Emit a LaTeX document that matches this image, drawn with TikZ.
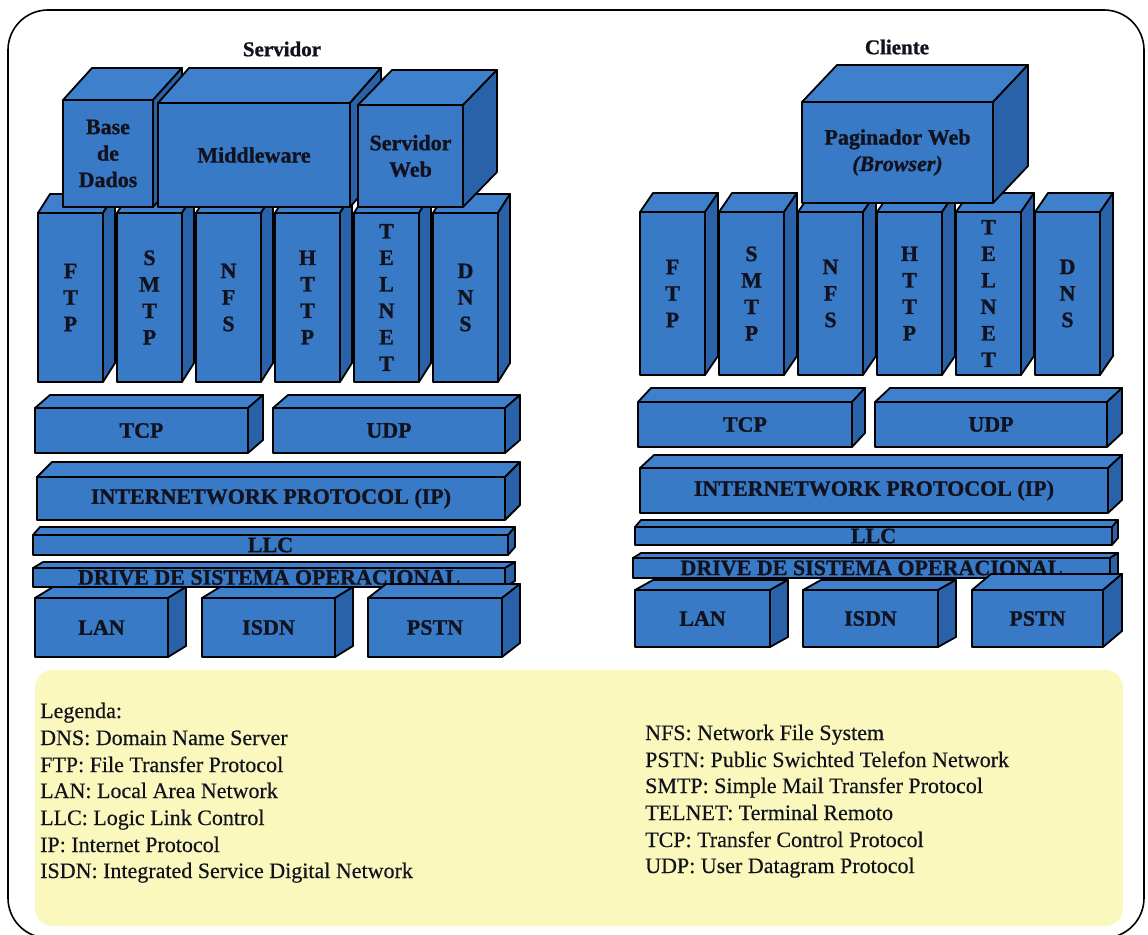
\documentclass[tikz,border=0pt]{standalone}
\usepackage{fontspec}
\setmainfont{Liberation Serif}
\newfontfamily\labelfont[FakeBold=1]{Liberation Serif}
\newfontfamily\legendfont[FakeBold=0.4]{Liberation Serif}

\definecolor{boxblue}{RGB}{56,122,198}
\definecolor{boxtop}{RGB}{62,128,204}
\definecolor{boxside}{RGB}{42,98,170}
\definecolor{legendbg}{RGB}{250,248,188}
\definecolor{ink}{RGB}{18,18,30}

\tikzset{
  frontface/.style={rectangle, draw=black, fill=boxblue, line width=1.8pt,
    inner sep=0pt, outer sep=0pt, line join=round},
  topface/.style={draw=black, fill=boxtop, line width=1.8pt, line join=round},
  sideface/.style={draw=black, fill=boxside, line width=1.8pt, line join=round},
  boxlabel/.style={font=\labelfont\fontsize{22}{26.5}\selectfont\bfseries, text=ink,
    align=center, inner sep=0pt},
  titlelabel/.style={font=\labelfont\fontsize{21}{24}\selectfont\bfseries, text=ink, inner sep=0pt},
  legendline/.style={font=\legendfont\fontsize{22}{26}\selectfont, text=ink, inner sep=0pt, anchor=base west},
}

% 3D block: name, left, top, right, bottom (front face), depth dx, depth dy, label
\newcommand\layerbox[8]{%
  \filldraw[topface] (#2,#3) -- ({#2+#6},{#3+#7}) -- ({#4+#6},{#3+#7}) -- (#4,#3) -- cycle;
  \filldraw[sideface] (#4,#3) -- ({#4+#6},{#3+#7}) -- ({#4+#6},{#5+#7}) -- (#4,#5) -- cycle;
  \node[frontface, minimum width={(#4-#2)*1pt}, minimum height={(#5-#3)*1pt}]
    (#1) at ({(#2+#4)/2},{(#3+#5)/2}) {};
  \node[boxlabel] (#1-text) at (#1.center) {#8};
}

\begin{document}
\begin{tikzpicture}[x=1pt, y=-1pt]
\useasboundingbox (0,0) rectangle (1148,934);
\fill[white] (0,0) rectangle (1148,934);

% frame and legend panel
\draw[line width=1.6pt, rounded corners=40pt] (8,10) rectangle (1144,938);
\fill[legendbg, rounded corners=18pt] (35,670) rectangle (1123,926);

% ---------------- server stack ----------------
\node[titlelabel] (srv-title) at (282,49) {Servidor};

\foreach \xa/\nm/\lab in {38/s-ftp/{F\\T\\P}, 117/s-smtp/{S\\M\\T\\P}, 196/s-nfs/{N\\F\\S},
    275/s-http/{H\\T\\T\\P}, 354/s-telnet/{T\\E\\L\\N\\E\\T}, 433/s-dns/{D\\N\\S}}
  {\layerbox{\nm}{\xa}{213}{\xa+65}{382}{12}{-19}{\lab}}

\layerbox{s-db}{63}{100}{153}{207}{29}{-32}{Base\\de\\Dados}
\layerbox{s-mid}{158}{103}{350}{207}{31}{-35}{Middleware}
\layerbox{s-web}{358}{105}{463}{207}{34}{-35}{Servidor\\Web}

\layerbox{s-tcp}{35}{408}{248}{453}{15}{-13}{TCP}
\layerbox{s-udp}{273}{408}{505}{453}{15}{-13}{UDP}
\layerbox{s-ip}{37}{477}{505}{520}{15}{-15}{INTERNETWORK PROTOCOL (IP)}
\layerbox{s-llc}{33}{535}{508}{555}{7}{-8}{LLC}
\layerbox{s-drv}{33}{568}{505}{587}{10}{-6}{DRIVE DE SISTEMA OPERACIONAL}
\layerbox{s-lan}{35}{598}{168}{657}{18}{-11}{LAN}
\layerbox{s-isdn}{202}{598}{335}{657}{18}{-11}{ISDN}
\layerbox{s-pstn}{368}{598}{502}{657}{18}{-14}{PSTN}

% ---------------- client stack ----------------
\node[titlelabel] (cli-title) at (897,47) {Cliente};

\foreach \xa/\nm/\lab in {640/c-ftp/{F\\T\\P}, 719/c-smtp/{S\\M\\T\\P}, 798/c-nfs/{N\\F\\S},
    877/c-http/{H\\T\\T\\P}, 956/c-telnet/{T\\E\\L\\N\\E\\T}, 1035/c-dns/{D\\N\\S}}
  {\layerbox{\nm}{\xa}{212}{\xa+65}{375}{13}{-19}{\lab}}

\layerbox{c-web}{802}{102}{993}{203}{35}{-37}{Paginador Web\\\textit{(Browser)}}

\layerbox{c-tcp}{638}{402}{852}{447}{13}{-14}{TCP}
\layerbox{c-udp}{875}{402}{1107}{447}{15}{-14}{UDP}
\layerbox{c-ip}{640}{468}{1108}{513}{14}{-13}{INTERNETWORK PROTOCOL (IP)}
\layerbox{c-llc}{635}{527}{1112}{545}{6}{-7}{LLC}
\layerbox{c-drv}{633}{558}{1110}{578}{8}{-5}{DRIVE DE SISTEMA OPERACIONAL}
\layerbox{c-lan}{635}{590}{770}{647}{18}{-10}{LAN}
\layerbox{c-isdn}{803}{590}{938}{647}{18}{-10}{ISDN}
\layerbox{c-pstn}{972}{590}{1103}{647}{19}{-16}{PSTN}

% ---------------- legend ----------------
\foreach \yy/\txt [count=\i] in {718/Legenda:, 745/DNS: Domain Name Server,
    772/FTP: File Transfer Protocol, 798/LAN: Local Area Network,
    825/LLC: Logic Link Control, 852/IP: Internet Protocol,
    878/ISDN: Integrated Service Digital Network}
  {\node[legendline] (leg-a\i) at (40,\yy) {\txt};}

\foreach \yy/\txt [count=\i] in {740/NFS: Network File System,
    767/PSTN: Public Swichted Telefon Network, 793/SMTP: Simple Mail Transfer Protocol,
    820/TELNET: Terminal Remoto, 847/TCP: Transfer Control Protocol,
    873/UDP: User Datagram Protocol}
  {\node[legendline] (leg-b\i) at (645,\yy) {\txt};}
\end{tikzpicture}
\end{document}
